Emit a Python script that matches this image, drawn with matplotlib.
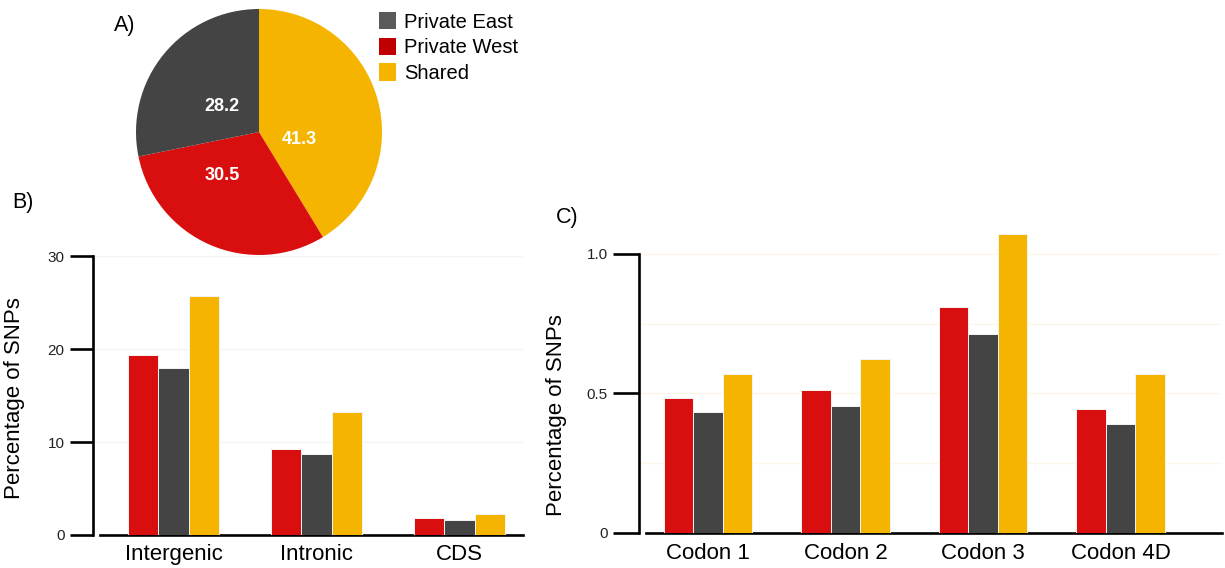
import numpy as np
import matplotlib.pyplot as plt
from matplotlib.patches import Patch

plt.rcParams['font.family'] = ['Liberation Sans', 'DejaVu Sans']

W, H = 1225, 568

# A) share of SNPs
pie_names = ['Shared', 'Private West', 'Private East']
pie_values = [41.3, 30.5, 28.2]
pie_colors = ['#f4b400', '#d90f0f', '#444444']

legend_labels = ['Private East', 'Private West', 'Shared']
legend_colors = ['#5a5a5a', '#c00000', '#f4b400']

# B) genomic regions
region_names = ['Intergenic', 'Intronic', 'CDS']
region_west = [19.35, 9.25, 1.83]
region_east = [17.96, 8.7, 1.6]
region_shared = [25.7, 13.2, 2.26]

# C) codon positions
codon_names = ['Codon 1', 'Codon 2', 'Codon 3', 'Codon 4D']
codon_west = [0.484, 0.513, 0.810, 0.444]
codon_east = [0.434, 0.455, 0.713, 0.391]
codon_shared = [0.570, 0.624, 1.072, 0.570]

bar_colors = ['#d90f0f', '#444444', '#f4b400']


def px_axes(fig, x0, y0, x1, y1):
    # pixel box, origin top-left
    return fig.add_axes([x0 / W, 1 - y1 / H, (x1 - x0) / W, (y1 - y0) / H])


def style_bar_axes(ax, tick_len, xpad):
    for s in ['top', 'right']:
        ax.spines[s].set_visible(False)
    ax.spines['left'].set_linewidth(1.9)
    ax.spines['bottom'].set_linewidth(1.9)
    ax.tick_params(axis='y', length=tick_len, width=1.9, pad=4,
                   labelsize=11, labelcolor='#222222')
    ax.tick_params(axis='y', which='minor', length=0)
    ax.tick_params(axis='x', length=0, pad=xpad, labelsize=16)
    ax.set_axisbelow(True)


def grouped_bars(ax, names, series, width):
    x = np.arange(len(names))
    for i, (vals, col) in enumerate(zip(series, bar_colors)):
        ax.bar(x + (i - 1) * width, vals, width, color=col,
               edgecolor='#f4f4f4', linewidth=0.7, zorder=3)
    ax.set_xticks(x)
    ax.set_xticklabels(names)


fig = plt.figure(figsize=(W / 100, H / 100), dpi=100)

# ---- A) pie
ax_pie = px_axes(fig, 136, 9, 382, 255)
wedges, texts, autotexts = ax_pie.pie(
    pie_values, colors=pie_colors, startangle=90, counterclock=False,
    autopct='%.1f', wedgeprops={'linewidth': 0},
    textprops={'color': 'white', 'fontsize': 13, 'fontweight': 'bold'})
label_xy = [(0.325, -0.06), (-0.30, -0.35), (-0.30, 0.21)]
for t, (lx, ly) in zip(autotexts, label_xy):
    t.set_position((lx, ly))
ax_pie.set_xlim(-1, 1)
ax_pie.set_ylim(-1, 1)
ax_pie.set_aspect('equal')
ax_pie.axis('off')

handles = [Patch(facecolor=c, edgecolor='none') for c in legend_colors]
fig.legend(handles, legend_labels, loc='upper left',
           bbox_to_anchor=(379 / W, 1 - 12 / H), frameon=False,
           fontsize=14.5, handlelength=0.85, handleheight=0.95,
           handletextpad=0.4, labelspacing=0.3, borderpad=0,
           borderaxespad=0)

# ---- B) regions
ax_b = px_axes(fig, 93, 256, 523, 535)
grouped_bars(ax_b, region_names, [region_west, region_east, region_shared], 0.213)
ax_b.set_ylim(0, 30)
ax_b.set_xlim(-0.563, 2.444)
ax_b.set_yticks([0, 10, 20, 30])
ax_b.grid(axis='y', color='#f5f5f5', linewidth=1)
style_bar_axes(ax_b, 16.5, 6.5)
ax_b.spines['bottom'].set_bounds(-0.514, 2.444)
ax_b.set_ylabel('Percentage of SNPs', fontsize=16)
ax_b.yaxis.set_label_coords(-0.158, 0.49)

# ---- C) codons
ax_c = px_axes(fig, 639, 226, 1222, 533)
grouped_bars(ax_c, codon_names, [codon_west, codon_east, codon_shared], 0.2145)
ax_c.set_ylim(0, 1.1)
ax_c.set_xlim(-0.502, 3.738)
ax_c.set_yticks([0, 0.5, 1.0])
ax_c.set_yticklabels(['0', '0.5', '1.0'])
ax_c.set_yticks([0.25, 0.75], minor=True)
ax_c.grid(axis='y', which='both', color='#fcf7ea', linewidth=1)
style_bar_axes(ax_c, 18.5, 7)
ax_c.spines['left'].set_bounds(0, 1.0)
ax_c.spines['bottom'].set_bounds(-0.451, 3.738)
ax_c.set_ylabel('Percentage of SNPs', fontsize=16)
ax_c.yaxis.set_label_coords(-0.1235, 0.384)

# panel letters
for txt, px, py in [('A)', 125, 25), ('B)', 23, 202), ('C)', 567, 217)]:
    fig.text(px / W, 1 - py / H, txt, fontsize=15.5, ha='center', va='center')

fig.savefig('out.png', dpi=100)
